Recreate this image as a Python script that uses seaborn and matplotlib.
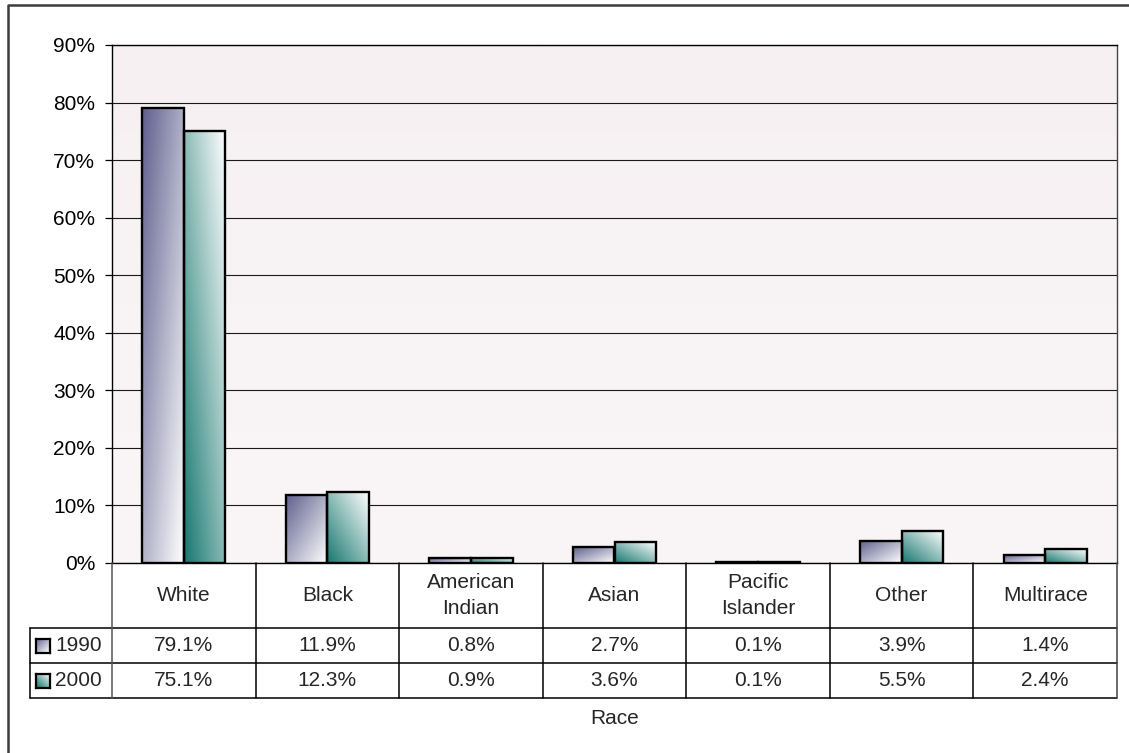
import numpy as np
import pandas as pd
import matplotlib
matplotlib.use("Agg")
import matplotlib.pyplot as plt
from matplotlib.lines import Line2D
from matplotlib.colors import to_rgb
import seaborn as sns

# ---- data -------------------------------------------------------------
races = ["White", "Black", "American Indian", "Asian",
         "Pacific Islander", "Other", "Multirace"]
race_labels = ["White", "Black", "American\nIndian", "Asian",
               "Pacific\nIslander", "Other", "Multirace"]
years = ["1990", "2000"]
share_1990 = [79.1, 11.9, 0.8, 2.7, 0.1, 3.9, 1.4]
share_2000 = [75.1, 12.3, 0.9, 3.6, 0.1, 5.5, 2.4]
y_ticks = [0, 10, 20, 30, 40, 50, 60, 70, 80, 90]

df = pd.DataFrame({
    "Race": races * 2,
    "Year": [years[0]] * len(races) + [years[1]] * len(races),
    "Share": share_1990 + share_2000,
})

# ---- style ------------------------------------------------------------
sns.set_theme(style="white")
plt.rcParams["font.family"] = ["Liberation Sans", "DejaVu Sans"]
FS = 15
year_colors = {"1990": "#5f5f8e", "2000": "#17776f"}

W, H = 1129, 753
fig = plt.figure(figsize=(W / 100, H / 100), dpi=100)
fig.patch.set_facecolor("white")


def fx(x):
    return x / W


def fy(y):
    return 1 - y / H


def gradient(color, kind, n=96):
    """Diagonal two-colour fill: colour fades to white across the box."""
    u = np.linspace(0, 1, n)
    U, V = np.meshgrid(u, u)  # row 0 = bottom (origin='lower')
    if kind == 0:   # colour at top-left, white at bottom-right
        t = (U + (1 - V)) / 2
    else:           # colour at bottom-left, white at top-right
        t = (U + V) / 2
    t = t[..., None]
    c = np.array(to_rgb(color))[None, None, :]
    return c * (1 - t) + np.ones(3)[None, None, :] * t


# plot area in pixels
L, R, T, B = 112, 1117, 45, 563
ax = fig.add_axes([fx(L), fy(B), (R - L) / W, (B - T) / H])

sns.barplot(data=df, x="Race", y="Share", hue="Year", order=races,
            hue_order=years, palette=[year_colors[y] for y in years],
            width=0.58, gap=0, saturation=1, legend=False, ax=ax,
            edgecolor="black", linewidth=1.7, zorder=3)

# plot-area background: faint pink wash, slightly deeper at top
bg_top = np.array([246, 240, 242]) / 255
bg_bot = np.array([250, 246, 247]) / 255
vv = np.linspace(0, 1, 64)[:, None, None]
bg = bg_bot * (1 - vv) + bg_top * vv
bg = np.repeat(bg, 2, axis=1)
ax.imshow(bg, extent=(-0.5, 6.5, 0, 90), origin="lower", aspect="auto",
          zorder=0, interpolation="bilinear")

# gradient fills for each bar, clipped to the bar outline
for p in list(ax.patches):
    x0, y0 = p.get_x(), p.get_y()
    w, h = p.get_width(), p.get_height()
    cx = x0 + w / 2
    kind = 0 if cx < round(cx) else 1
    img = gradient(year_colors[years[kind]], kind)
    im = ax.imshow(img, extent=(x0, x0 + w, y0, y0 + h), origin="lower",
                   aspect="auto", zorder=2.5, interpolation="bilinear")
    im.set_clip_path(p)
    p.set_facecolor("none")

ax.set_xlim(-0.5, 6.5)
ax.set_ylim(0, 90)
ax.set_yticks(y_ticks)
ax.set_yticklabels([f"{v}%" for v in y_ticks])
ax.set_xticks([])
ax.set_xlabel("")
ax.set_ylabel("")
ax.set_axisbelow(True)
ax.yaxis.grid(True, color="#1a1a1a", linewidth=0.8)
ax.tick_params(axis="y", direction="out", length=5, width=0.9,
               pad=7, labelsize=FS, colors="black", left=True)
for side in ["left", "bottom", "top"]:
    ax.spines[side].set_color("black")
    ax.spines[side].set_linewidth(1.0)
ax.spines["right"].set_color("#444444")
ax.spines["right"].set_linewidth(1.0)

# ---- data table under the plot -----------------------------------------
def hline(y, x0, x1, color="black", lw=1.1):
    fig.add_artist(Line2D([fx(x0), fx(x1)], [fy(y), fy(y)],
                          transform=fig.transFigure, color=color, lw=lw))


def vline(x, y0, y1, color="black", lw=1.1):
    fig.add_artist(Line2D([fx(x), fx(x)], [fy(y0), fy(y1)],
                          transform=fig.transFigure, color=color, lw=lw))


KEY_L = 30
ROW_CAT = (B, 628)
ROW_1 = (628, 663)
ROW_2 = (663, 698)
cw = (R - L) / len(races)

hline(ROW_CAT[1], KEY_L, R)
hline(ROW_1[1], KEY_L, R)
hline(ROW_2[1], KEY_L, R)
vline(KEY_L, ROW_1[0], ROW_2[1])
vline(L, B, ROW_2[1], color="#555555")
for k in range(1, len(races)):
    vline(L + k * cw, B, ROW_2[1])
vline(R, B, ROW_2[1], color="#444444")

for i, lab in enumerate(race_labels):
    xc = L + (i + 0.5) * cw
    fig.text(fx(xc), fy(sum(ROW_CAT) / 2), lab, ha="center", va="center",
             fontsize=FS, linespacing=1.45)
    fig.text(fx(xc), fy(sum(ROW_1) / 2), f"{share_1990[i]:.1f}%",
             ha="center", va="center", fontsize=FS)
    fig.text(fx(xc), fy(sum(ROW_2) / 2), f"{share_2000[i]:.1f}%",
             ha="center", va="center", fontsize=FS)

# legend keys inside the table's first column
for kind, (yr, row) in enumerate(zip(years, [ROW_1, ROW_2])):
    yc = sum(row) / 2
    ks = 14
    kax = fig.add_axes([fx(36), fy(yc + ks / 2), ks / W, ks / H])
    kax.imshow(gradient(year_colors[yr], kind, 32), origin="lower",
               aspect="auto", interpolation="bilinear")
    kax.set_xticks([])
    kax.set_yticks([])
    for s in kax.spines.values():
        s.set_color("black")
        s.set_linewidth(1.6)
    fig.text(fx(55), fy(yc), yr, ha="left", va="center", fontsize=FS)

fig.text(fx((L + R) / 2), fy(718), "Race", ha="center", va="center",
         fontsize=FS)

# outer chart border
fig.add_artist(Line2D([fx(8), fx(8), fx(W)], [fy(H), fy(5), fy(5)],
                      transform=fig.transFigure, color="#3c3c3c", lw=1.8))

fig.savefig("out.png", dpi=100)
